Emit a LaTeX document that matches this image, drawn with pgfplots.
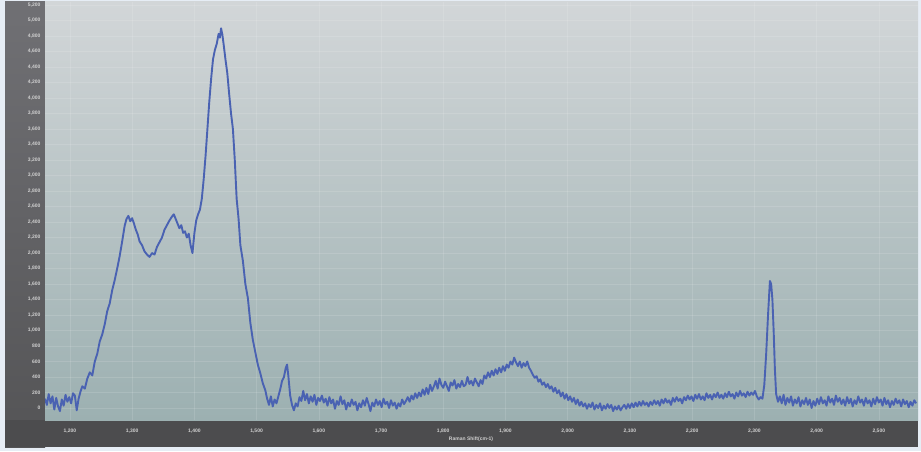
\documentclass[border=0pt]{standalone}
\usepackage{fontspec}
\setmainfont{Liberation Sans}
\usepackage{pgfplots}
\pgfplotsset{compat=1.18}
\definecolor{outerbg}{HTML}{E6EDF5}
\definecolor{panel}{HTML}{4C4C4E}
\definecolor{panelT}{HTML}{707074}
\definecolor{panelB}{HTML}{545456}
\definecolor{bgtop}{HTML}{D2D6D8}
\definecolor{bgbot}{HTML}{9CB0B1}
\definecolor{spec}{HTML}{4A62B2}
\definecolor{lbl}{HTML}{D0D0D0}
\begin{document}
\begin{tikzpicture}[x=1pt,y=1pt]
\useasboundingbox (0,0) rectangle (921,451);
\fill[outerbg] (0,0) rectangle (921,451);
\shade[top color=panelT, bottom color=panelB] (5,4) rectangle (45,449);
\fill[panel] (5,4) rectangle (918,31);
\begin{axis}[
  at={(45pt,31pt)}, anchor=south west,
  scale only axis, width=873pt, height=418pt,
  xmin=1160, xmax=2563, ymin=-155, ymax=5240,
  axis line style={draw=none},
  axis background/.style={top color=bgtop, bottom color=bgbot},
  xtick={1200,1300,...,2500},
  ytick={0,200,...,5200},
  major tick length=0pt,
  grid=major,
  major grid style={white, opacity=0.12, line width=0.4pt},
  /pgf/number format/assume math mode=true,
  /pgf/number format/1000 sep={,},
  ticklabel style={font=\fontsize{5}{6}\selectfont\bfseries, text=lbl},
  yticklabel style={anchor=east, xshift=-1pt},
  xticklabel style={anchor=north, yshift=-5pt},
  xlabel={Raman Shift(cm-1)},
  xlabel style={font=\fontsize{5}{6}\selectfont\bfseries, text=lbl, at={(axis description cs:0.488,0)}, anchor=north, yshift=-13pt},
]
\addplot[spec, line width=1.9pt, line join=round] coordinates {
(1160,120)(1163,40)(1166,180)(1169,60)(1172,150)(1175,-20)(1178,130)(1181,20)(1184,-40)(1187,110)(1190,30)(1193,170)(1196,80)(1199,140)(1202,60)(1205,190)(1208,160)(1211,-30)(1214,120)(1217,210)
(1220,280)(1224,250)(1228,380)(1232,460)(1236,420)(1240,600)(1244,700)(1248,860)(1252,950)(1256,1080)(1260,1250)(1264,1350)(1268,1520)(1272,1650)(1276,1800)(1280,1960)(1284,2150)(1288,2350)(1291,2440)(1294,2480)(1297,2410)(1300,2450)(1303,2380)(1306,2300)(1309,2240)(1312,2150)(1316,2100)(1320,2020)(1324,1980)(1328,1950)(1332,2000)(1336,1980)(1340,2080)(1344,2140)(1348,2200)(1352,2300)(1356,2360)(1360,2420)(1364,2470)(1367,2500)(1370,2440)(1373,2380)(1376,2320)(1379,2360)(1382,2260)(1385,2280)(1388,2200)(1391,2250)(1394,2100)(1397,2000)(1400,2250)(1403,2420)(1406,2500)(1409,2560)(1412,2700)(1415,2950)(1418,3250)(1421,3600)(1424,3950)(1427,4250)(1430,4500)(1433,4620)(1436,4700)(1439,4830)(1441,4780)(1443,4900)(1445,4820)(1447,4700)(1450,4500)(1453,4320)(1456,4050)(1459,3800)(1462,3600)(1465,3200)(1468,2700)(1471,2450)(1474,2100)(1478,1900)(1482,1600)(1486,1420)(1490,1100)(1494,880)(1498,720)(1502,560)(1506,450)(1510,320)(1514,230)(1517,120)(1520,40)(1523,150)(1526,20)(1529,110)(1532,60)(1535,150)(1538,240)(1541,350)(1544,400)(1547,520)(1549,560)(1551,420)(1554,160)(1557,40)(1560,-30)(1563,60)(1566,20)(1569,140)(1572,90)(1575,220)(1578,100)(1581,180)(1584,60)
(1587,150)(1590,80)(1593,170)(1596,40)(1599,130)(1602,90)(1605,160)(1608,70)(1611,120)(1614,30)(1617,140)(1620,60)(1623,110)(1626,-10)(1629,90)(1632,40)(1635,150)(1638,50)(1641,100)(1644,-20)(1647,70)(1650,20)(1653,110)(1656,40)(1659,80)(1662,-30)(1665,60)(1668,10)(1671,100)(1674,30)(1677,130)(1680,50)(1683,-40)(1686,70)(1689,20)(1692,110)(1695,40)(1698,90)(1701,10)(1704,120)(1707,50)(1710,80)(1713,0)(1716,100)(1719,30)(1722,70)(1725,-10)(1728,60)(1731,20)(1734,110)(1737,50)(1740,90)(1743,140)(1746,80)(1749,160)(1752,110)(1755,190)(1758,130)(1761,200)(1764,150)(1767,240)(1770,170)(1773,260)(1776,180)(1779,300)(1782,220)(1785,280)(1788,350)(1791,250)(1794,380)(1797,300)(1800,260)(1803,340)(1806,280)(1809,220)(1812,330)(1815,290)(1818,360)(1821,250)(1824,310)(1827,270)(1830,350)(1833,280)(1836,300)(1839,400)(1842,310)(1845,350)(1848,290)(1851,380)(1854,330)(1857,280)(1860,360)(1863,310)(1866,420)(1869,380)(1872,460)(1875,400)(1878,480)(1881,420)(1884,500)(1887,440)(1890,520)(1893,460)(1896,540)(1899,480)(1902,560)(1905,520)(1908,600)(1911,560)(1914,650)(1917,590)(1920,540)(1923,600)(1926,520)(1929,580)(1932,540)(1935,600)(1938,520)(1941,480)(1944,430)(1947,390)(1950,410)(1953,340)(1956,370)(1959,300)(1962,330)(1965,270)(1968,310)(1971,250)(1974,280)(1977,210)(1980,260)(1983,190)(1986,230)(1989,150)(1992,200)(1995,120)(1998,180)(2001,100)(2004,150)(2007,80)(2010,130)(2013,50)(2016,110)(2019,30)(2022,80)(2025,20)(2028,60)(2031,-10)(2034,50)(2037,10)(2040,70)(2043,-20)(2046,40)(2049,0)(2052,60)(2055,-30)(2058,30)(2061,-10)(2064,50)(2067,0)(2070,40)(2073,-40)(2076,20)(2079,-20)(2082,30)(2085,-30)(2088,10)(2091,40)(2094,-10)(2097,50)(2100,0)(2103,60)(2106,10)(2109,70)(2112,20)(2115,80)(2118,30)(2121,90)(2124,40)(2127,70)(2130,20)(2133,80)(2136,40)(2139,100)(2142,50)(2145,90)(2148,30)(2151,110)(2154,60)(2157,120)(2160,70)(2163,100)(2166,40)(2169,130)(2172,80)(2175,140)(2178,90)(2181,120)(2184,60)(2187,140)(2190,100)(2193,160)(2196,110)(2199,150)(2202,90)(2205,170)(2208,120)(2211,180)(2214,110)(2217,150)(2220,100)(2223,190)(2226,130)(2229,170)(2232,110)(2235,180)(2238,140)(2241,200)(2244,130)(2247,170)(2250,120)(2253,190)(2256,140)(2259,210)(2262,150)(2265,180)(2268,120)(2271,200)(2274,150)(2277,220)(2280,160)(2283,190)(2286,140)(2289,210)(2292,160)(2295,200)(2298,170)(2301,220)(2304,150)(2307,110)(2310,140)(2313,120)(2316,300)(2319,700)(2322,1200)(2325,1640)(2327,1600)(2329,1400)(2331,1000)(2333,500)(2335,180)(2338,80)(2341,150)(2344,60)(2347,170)(2350,40)(2353,130)(2356,70)(2359,150)(2362,30)(2365,110)(2368,60)(2371,140)(2374,20)(2377,100)(2380,50)(2383,130)(2386,40)(2389,110)(2392,0)(2395,90)(2398,30)(2401,120)(2404,50)(2407,140)(2410,60)(2413,100)(2416,30)(2419,150)(2422,70)(2425,120)(2428,40)(2431,160)(2434,80)(2437,130)(2440,50)(2443,110)(2446,30)(2449,140)(2452,60)(2455,120)(2458,20)(2461,100)(2464,50)(2467,150)(2470,70)(2473,110)(2476,30)(2479,130)(2482,60)(2485,100)(2488,20)(2491,120)(2494,50)(2497,140)(2500,70)(2503,110)(2506,30)(2509,130)(2512,50)(2515,100)(2518,10)(2521,90)(2524,40)(2527,120)(2530,60)(2533,100)(2536,20)(2539,110)(2542,50)(2545,90)(2548,10)(2551,80)(2554,30)(2557,100)(2560,60)
};
\end{axis}
\end{tikzpicture}
\end{document}
